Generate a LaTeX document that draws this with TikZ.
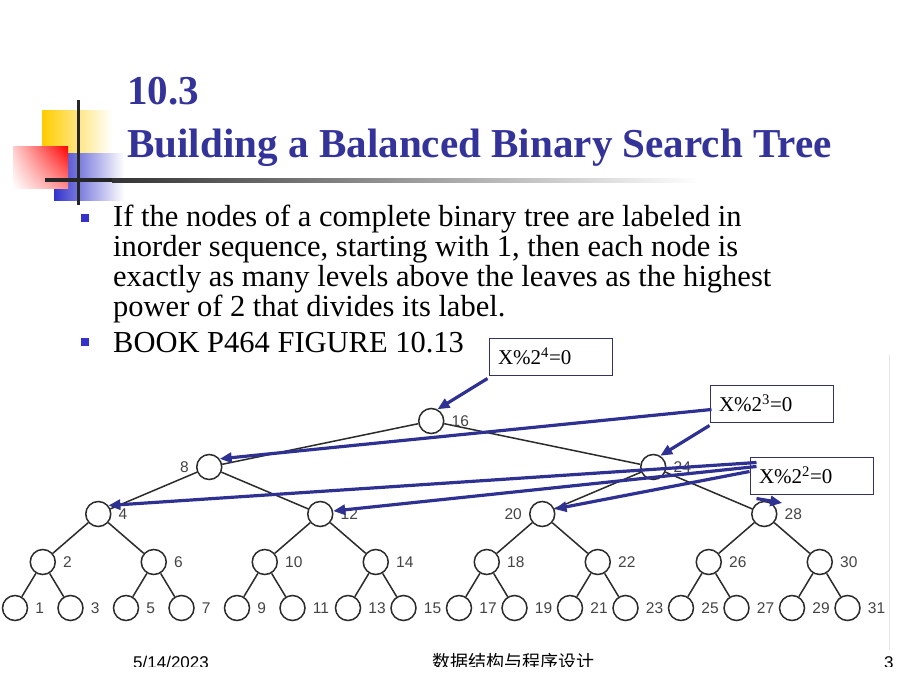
\documentclass[tikz,border=0pt]{standalone}
\usepackage{fontspec}
\setmainfont{Liberation Serif}
\newfontfamily\labfont{Liberation Sans}
\newfontfamily\cjk{Noto Sans CJK SC}
\usepackage{tikz}
\usetikzlibrary{arrows.meta,calc,positioning,shadings}
\definecolor{titleblue}{HTML}{333399}
\definecolor{arrowblue}{HTML}{2E3192}
\definecolor{bulletblue}{HTML}{3333CC}
\definecolor{edgegray}{HTML}{2B2B2B}
\definecolor{labgray}{HTML}{444444}
\definecolor{boxline}{HTML}{333366}
\definecolor{logoyel}{HTML}{FFCC00}
\definecolor{logored}{HTML}{FF0000}
\tikzset{
  vtx/.style={circle, draw=edgegray, line width=1.5pt, fill=white, minimum size=25pt, inner sep=0pt},
  edge/.style={draw=edgegray, line width=1.5pt},
  vlab/.style={text=labgray, font=\labfont\fontsize{15.5}{15.5}\selectfont, inner sep=0pt},
  arr/.style={-{Triangle[length=12pt,width=10pt]}, line width=3.2pt, draw=arrowblue},
  modbox/.style={draw=boxline, line width=1pt, fill=white, minimum width=123pt, minimum height=37pt,
    text width=105pt, inner xsep=9pt, align=left, font=\fontsize{21}{21}\selectfont},
  ttl/.style={text=titleblue, font=\bfseries\fontsize{41.1}{41}\selectfont, anchor=base west, inner sep=0pt},
  body/.style={font=\fontsize{30.5}{30}\selectfont, anchor=base west, inner sep=0pt},
  bul/.style={rectangle, fill=bulletblue, minimum size=8pt, inner sep=0pt},
  foot/.style={font=\labfont\fontsize{17}{17}\selectfont, anchor=base west, inner sep=0pt}
}
\begin{document}
\begin{tikzpicture}[x=1pt,y=-1pt]
  \useasboundingbox[fill=white] (0,0) rectangle (920,690);

  % logo
  \shade[left color=logoyel, middle color=logoyel, right color=white] (42,111) rectangle (112,156);
  \shade[left color=bulletblue, middle color=bulletblue, right color=white] (54,153) rectangle (124,200);
  \shade[upper right=logored, upper left=logored!20, lower right=logored!45, lower left=white] (13,146) rectangle (68,188);
  \draw[line width=3pt, black!85] (78,100) -- (78,205);
  \fill[black!85] (45,178) rectangle (112,182);
  \shade[left color=black!80, right color=white] (112,178) rectangle (700,182);

  \node[ttl] (sec) at (127,105) {10.3};
  \node[ttl] (head) at (127,157) {Building a Balanced Binary Search Tree};

  \node[bul] (bu1) at (85,217.5) {};
  \node[body] (t1) at (113,226) {If the nodes of a complete binary tree are labeled in};
  \node[body] (t2) at (113,256) {inorder sequence, starting with 1, then each node is};
  \node[body] (t3) at (113,286) {exactly as many levels above the leaves as the highest};
  \node[body] (t4) at (113,316) {power of 2 that divides its label.};
  \node[bul] (bu2) at (85,341.5) {};
  \node[body] (t5) at (113,352) {BOOK P464 FIGURE 10.13};

  \draw[black!10] (889,355) -- (889,650);

  % the tree, labelled in inorder
  \foreach \y/\ks in {421/{16},467/{8,24},514/{4,12,20,28},562/{2,6,...,30},608/{1,3,...,31}}{
    \foreach \k in \ks {
      \node[vtx] (n\k) at ({15+27.75*(\k-1)},\y) {};
    }
  }
  \foreach \d/\ks in {8/{16},4/{8,24},2/{4,12,20,28},1/{2,6,...,30}}{
    \foreach \k in \ks {
      \pgfmathtruncatemacro\kl{\k-\d}
      \pgfmathtruncatemacro\kr{\k+\d}
      \draw[edge] (n\k) -- (n\kl);
      \draw[edge] (n\k) -- (n\kr);
    }
  }
  \foreach \k in {1,2,3,4,5,6,7,9,10,11,12,13,14,15,16,17,18,19,21,22,23,24,25,26,27,28,29,30,31}
    \node[vlab, right=7pt of n\k] (l\k) {\k};
  \node[vlab, left=7pt of n8] (l8) {8};
  \node[vlab, left=7pt of n20] (l20) {20};

  % the three tests
  \node[modbox] (b4) at (550.5,356.5) {X\%2\textsuperscript{4}=0};
  \node[modbox] (b3) at (771.5,403.5) {X\%2\textsuperscript{3}=0};
  \node[modbox] (b2) at (811.5,475.5) {X\%2\textsuperscript{2}=0};

  \coordinate (t28) at ($(n28)+(18,-11)$);
  \draw[arr] ($(b4.south west)+(-1,3)$) -- (n16.62);
  \draw[arr] ($(b3.west)+(2,6)$) -- (n8.38);
  \draw[arr] ($(b3.south west)+(0,3)$) -- (n24.58);
  \draw[arr] ($(b2.north west)+(7,6)$) -- (n4.40);
  \draw[arr] ($(b2.north west)+(7,10)$) -- (n12.13);
  \draw[arr] ($(b2.north west)+(0,15)$) -- (n20.22);
  \draw[arr] ($(b2.south west)+(7,4)$) -- (t28);

  % footer
  \begin{scope}
    \clip (0,640) rectangle (920,666);
    \node[foot] (date) at (133,668) {5/14/2023};
    \node[foot, font=\cjk\fontsize{18}{18}\selectfont] (course) at (432,668) {数据结构与程序设计};
    \node[foot] (page) at (884,668) {3};
  \end{scope}
\end{tikzpicture}
\end{document}
